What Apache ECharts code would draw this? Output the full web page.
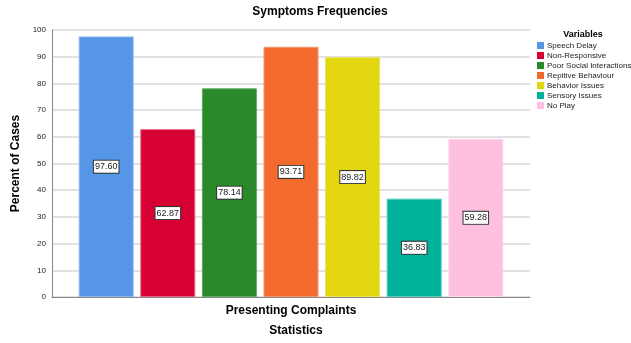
<!DOCTYPE html>
<html><head><meta charset="utf-8">
<script src="https://cdn.jsdelivr.net/npm/echarts@6/dist/echarts.min.js"></script>
<style>html,body{margin:0;padding:0;background:#fff}#c{width:631px;height:343px}</style>
</head><body><div id="c"></div>
<script>
const seriesNames = ['Speech Delay','Non-Responsive','Poor Social Interactions','Repitive Behaviour','Behavior Issues','Sensory Issues','No Play'];
const seriesValues = [97.60, 62.87, 78.14, 93.71, 89.82, 36.83, 59.28];
const seriesColors = ['#5596E6','#D60033','#2A8A2A','#F26A2C','#E2D60E','#00B29C','#FFC0E0'];
const borderColors = ['#8CB8EE','#E86080','#5FAA5F','#F5946A','#EDE35A','#50CDBD','#FFD8EC'];
const categories = ['Presenting Complaints'];
const yTicks = [0,10,20,30,40,50,60,70,80,90,100];

const chart = echarts.init(document.getElementById('c'), null, {renderer:'canvas'});
const series = seriesNames.map((n,i)=>({
  name:n, type:'bar', data:[seriesValues[i]],
  barWidth:55, barGap:'12%',
  itemStyle:{color:seriesColors[i], borderColor:borderColors[i], borderWidth:1},
  label:{show:true, position:'inside', formatter:p=>p.value.toFixed(2),
    color:'#222', fontSize:9, fontFamily:'Liberation Sans, Arial',
    backgroundColor:'#fff', borderColor:'#333', borderWidth:1, padding:[2,1,1,1]},
  emphasis:{disabled:true}
}));
chart.setOption({
  animation:false,
  textStyle:{fontFamily:'Liberation Sans, Arial'},
  title:[
    {text:'Symptoms Frequencies', left:315, top:1, textAlign:'center',
      textStyle:{fontSize:12, fontWeight:'bold', color:'#000'}},
    {text:'Variables', left:578, top:25, textAlign:'center',
      textStyle:{fontSize:9, fontWeight:'bold', color:'#000'}},
    {text:'Statistics', left:291, top:320, textAlign:'center',
      textStyle:{fontSize:12, fontWeight:'bold', color:'#000'}}
  ],
  legend:{orient:'vertical', left:532, top:36, itemWidth:7, itemHeight:7, itemGap:1,
    icon:'rect', itemStyle:{borderWidth:0},
    textStyle:{fontSize:8, lineHeight:9, color:'#222', padding:[0,0,0,-2]}, data:seriesNames},
  grid:{left:52, right:101, top:30, bottom:46},
  xAxis:{type:'category', data:categories,
    axisLine:{lineStyle:{color:'#888', width:1}}, axisTick:{show:false}, axisLabel:{show:false},
    name:categories[0], nameLocation:'middle', nameGap:8,
    nameTextStyle:{fontSize:12, fontWeight:'bold', color:'#000'}},
  yAxis:{type:'value', min:yTicks[0], max:yTicks[yTicks.length-1], interval:10,
    axisLine:{show:true, lineStyle:{color:'#888'}}, axisTick:{show:false},
    axisLabel:{fontSize:8, color:'#222', margin:6},
    splitLine:{lineStyle:{color:'#d9d9d9', width:1.5}},
    name:'Percent of Cases', nameLocation:'middle', nameGap:26, nameRotate:90,
    nameTextStyle:{fontSize:12, fontWeight:'bold', color:'#000'}},
  series:series
});
</script></body></html>
